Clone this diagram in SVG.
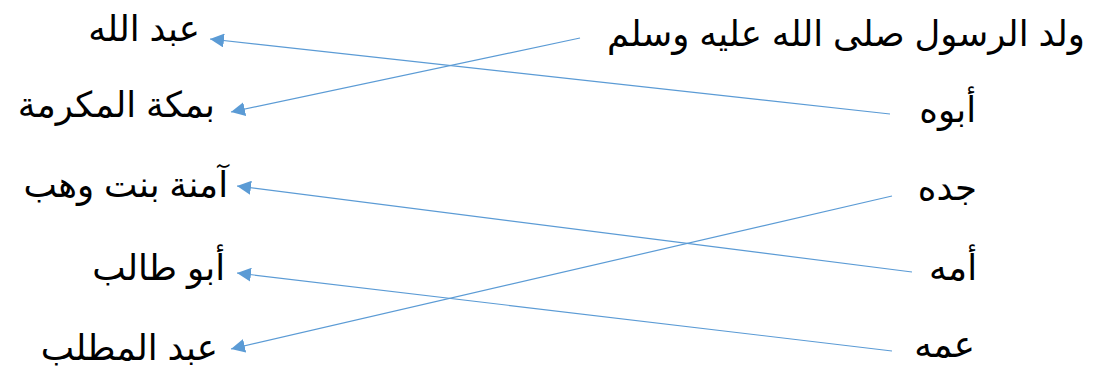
<svg xmlns="http://www.w3.org/2000/svg" width="1099" height="376" viewBox="0 0 1099 376">
<style>
text{font-family:"Liberation Sans","DejaVu Sans",sans-serif;font-size:35.5px;fill:#000;text-anchor:end}
.c{stroke:#5B9BD5;stroke-width:1.2;fill:none;marker-end:url(#ah)}
</style>
<defs>
<marker id="ah" viewBox="0 0 10 10" refX="10" refY="5" markerWidth="14" markerHeight="14" markerUnits="userSpaceOnUse" orient="auto">
<path d="M0,0 L10,5 L0,10 z" fill="#5B9BD5"/>
</marker>
</defs>
<rect width="1099" height="376" fill="#fff"/>
<g id="r1"><text x="1085" y="46">ولد الرسول صلى الله عليه وسلم</text></g>
<g id="r2"><text x="976" y="122">أبوه</text></g>
<g id="r3"><text x="977" y="200">جده</text></g>
<g id="r4"><text x="977" y="280">أمه</text></g>
<g id="r5"><text x="975" y="357">عمه</text></g>
<g id="l1"><text x="200" y="41">عبد الله</text></g>
<g id="l2"><text x="215" y="117">بمكة المكرمة</text></g>
<g id="l3"><text x="228" y="197">آمنة بنت وهب</text></g>
<g id="l4"><text x="225" y="280">أبو طالب</text></g>
<g id="l5"><text x="218" y="360">عبد المطلب</text></g>
<g id="connectors">
<line class="c" x1="890" y1="114" x2="210" y2="39"/>
<line class="c" x1="580" y1="38" x2="231" y2="112"/>
<line class="c" x1="912" y1="272" x2="237" y2="186"/>
<line class="c" x1="892" y1="196" x2="231" y2="349"/>
<line class="c" x1="892" y1="351" x2="237" y2="273"/>
</g>
</svg>
